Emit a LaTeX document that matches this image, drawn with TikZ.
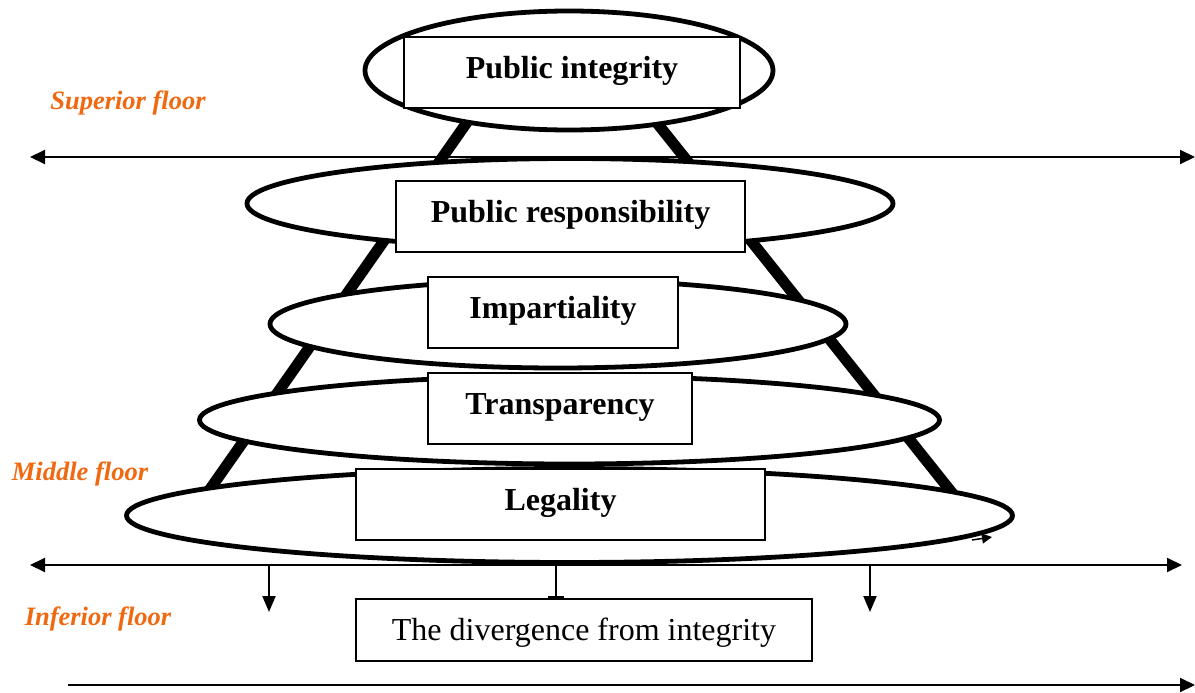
\documentclass[tikz,border=0pt]{standalone}
\usepackage{fontspec}
\setmainfont{Liberation Serif}
\usetikzlibrary{shapes.geometric,arrows.meta}
\definecolor{floororange}{RGB}{240,104,16}
\tikzset{
  oval/.style={ellipse, draw=black, line width=4.8pt, fill=white, inner sep=0pt},
  valuebox/.style={rectangle, draw=black, line width=1.5pt, fill=white, inner sep=0pt,
     text height=41pt, text depth=30pt, font=\fontsize{32}{36}\selectfont\bfseries},
  divbox/.style={rectangle, draw=black, line width=1.5pt, fill=white, inner sep=0pt,
     text height=41pt, text depth=21pt, font=\fontsize{32}{36}\selectfont},
  floorlabel/.style={text=floororange, font=\fontsize{26.5}{30}\selectfont\bfseries\itshape, inner sep=0pt},
  leg/.style={line width=11pt, line cap=butt},
  axis/.style={line width=2pt, {Triangle[length=15pt,width=14pt]}-{Triangle[length=15pt,width=14pt]}},
  axisright/.style={line width=2pt, -{Triangle[length=15pt,width=14pt]}},
  drop/.style={line width=2pt, -{Triangle[length=16pt,width=13pt]}},
}
\begin{document}
\begin{tikzpicture}[x=1pt,y=-1pt]
\useasboundingbox (0,0) rectangle (1195,693);
% pyramid legs
\coordinate (lt) at (470,118);
\coordinate (lb) at (208,492);
\coordinate (rt) at (653,118);
\coordinate (rb) at (953,494);
\draw[leg] (lt) -- (lb);
\draw[leg] (rt) -- (rb);
% upper axis
\coordinate (a1l) at (30,157);
\coordinate (a1r) at (1195,157);
\draw[axis] (a1l) -- (a1r);
% levels
\node[oval, minimum width=408, minimum height=119] (e1) at (569,70.5) {};
\node[valuebox, minimum width=336] (b1) at (572,72.5) {Public integrity};
\node[oval, minimum width=646, minimum height=90] (e2) at (570,203.5) {};
\node[valuebox, minimum width=349] (b2) at (570.5,216.5) {Public responsibility};
\node[oval, minimum width=576, minimum height=88] (e3) at (558,324) {};
\node[valuebox, minimum width=250] (b3) at (553,312.5) {Impartiality};
\node[oval, minimum width=740, minimum height=88] (e4) at (569.5,420) {};
\node[valuebox, minimum width=264] (b4) at (560,408.5) {Transparency};
\node[oval, minimum width=886, minimum height=94] (e5) at (569.5,515.5) {};
\node[valuebox, minimum width=409] (b5) at (560.5,504.5) {Legality};
\coordinate (s1) at (972,540);
\coordinate (s2) at (992,537);
\draw[line width=1.5pt, -{Triangle[length=10pt,width=10pt]}] (s1) -- (s2);
% middle axis
\coordinate (a2l) at (30,565);
\coordinate (a2r) at (1182,565);
\draw[axis] (a2l) -- (a2r);
% divergence
\node[divbox, minimum width=456] (b6) at (584,630) {The divergence from integrity};
\coordinate (d1s) at (269,565);
\coordinate (d1e) at (269,612);
\coordinate (d2s) at (870,565);
\coordinate (d2e) at (870,612);
\coordinate (d3s) at (556,565);
\draw[drop] (d1s) -- (d1e);
\draw[drop] (d2s) -- (d2e);
\draw[line width=2pt, -{Bar[width=16pt,line width=2.5pt]}] (d3s) -- (d3s |- b6.north);
% lower axis
\coordinate (a3l) at (68,685);
\coordinate (a3r) at (1195,685);
\draw[axisright] (a3l) -- (a3r);
% floor labels
\node[floorlabel] (sup) at (128,103) {Superior floor};
\node[floorlabel] (mid) at (80,474) {Middle floor};
\node[floorlabel] (inf) at (98,619) {Inferior floor};
\end{tikzpicture}
\end{document}
